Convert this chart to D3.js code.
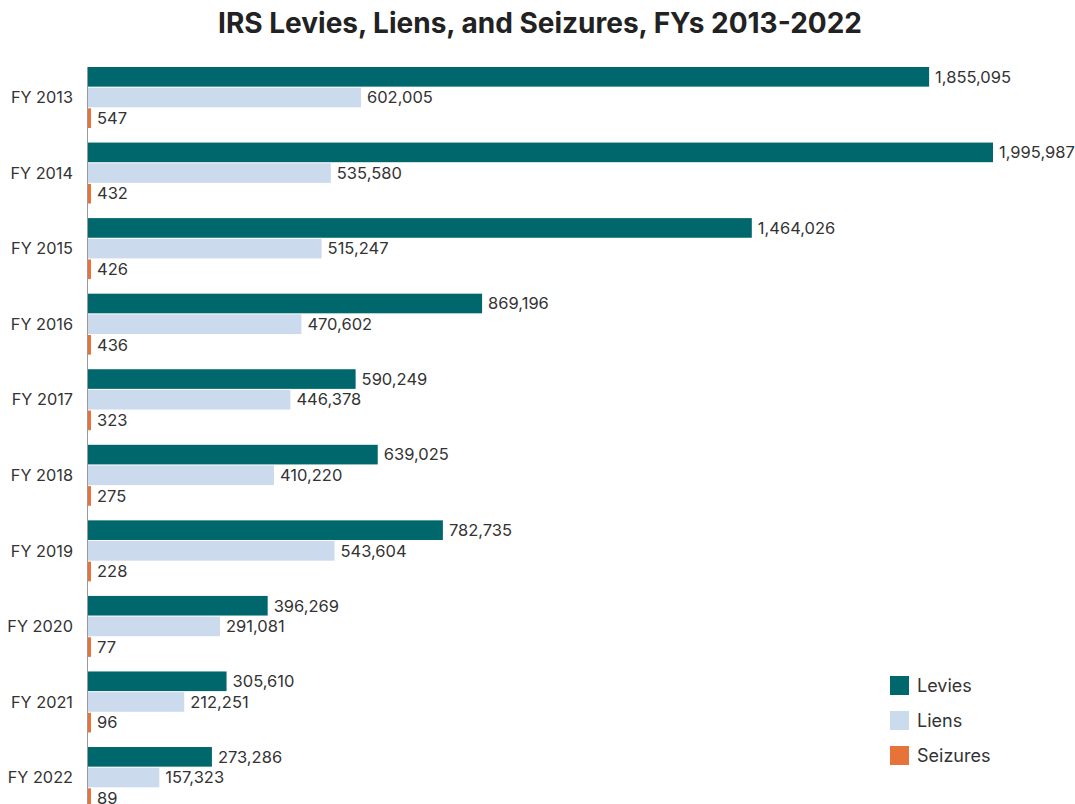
<!DOCTYPE html>
<html>
<head>
<meta charset="utf-8">
<script src="https://cdn.jsdelivr.net/npm/d3@7"></script>
<style>
  body { margin: 0; background: #fff; }
  svg { display: block; font-family: Inter, "Noto Sans", sans-serif; }
</style>
</head>
<body>
<div id="chart"></div>
<script>
const years = ["FY 2013", "FY 2014", "FY 2015", "FY 2016", "FY 2017", "FY 2018", "FY 2019", "FY 2020", "FY 2021", "FY 2022"];
const seriesNames = ["Levies", "Liens", "Seizures"];
const levies = [1855095, 1995987, 1464026, 869196, 590249, 639025, 782735, 396269, 305610, 273286];
const liens = [602005, 535580, 515247, 470602, 446378, 410220, 543604, 291081, 212251, 157323];
const seizures = [547, 432, 426, 436, 323, 275, 228, 77, 96, 89];
const colors = ["#00686d", "#cbdaec", "#e8733a"];

const width = 1075, height = 804;

const data = years.map((y, i) => ({
  year: y,
  vals: [levies[i], liens[i], seizures[i]]
}));

const svg = d3.select("#chart")
  .append("svg")
    .attr("width", width)
    .attr("height", height);

// title
svg.append("text")
  .attr("x", 540)
  .attr("y", 33)
  .attr("text-anchor", "middle")
  .attr("font-size", 28)
  .attr("font-weight", 700)
  .attr("fill", "#222")
  .text("IRS Levies, Liens, and Seizures, FYs 2013-2022");

const x = d3.scaleLinear()
  .domain([0, d3.max(levies)])
  .range([88, 993]);

const y = d3.scaleBand()
  .domain(years)
  .range([67, 808])
  .paddingInner(0.193)
  .paddingOuter(0);

const ySub = d3.scaleBand()
  .domain(seriesNames)
  .range([0, y.bandwidth()])
  .paddingInner(0.05);

const groups = svg.selectAll("g.grp")
  .data(data)
  .enter()
  .append("g")
    .attr("class", "grp")
    .attr("transform", d => "translate(0," + y(d.year) + ")");

groups.selectAll("rect")
  .data(d => d.vals.map((v, i) => ({ key: seriesNames[i], v: v, i: i })))
  .enter()
  .append("rect")
    .attr("x", x(0))
    .attr("y", d => ySub(d.key))
    .attr("width", d => Math.max(3, x(d.v) - x(0)))
    .attr("height", ySub.bandwidth())
    .attr("fill", d => colors[d.i]);

// value labels
groups.selectAll("text.val")
  .data(d => d.vals.map((v, i) => ({ key: seriesNames[i], v: v, i: i })))
  .enter()
  .append("text")
    .attr("class", "val")
    .attr("x", d => x(0) + Math.max(3, x(d.v) - x(0)) + 6)
    .attr("y", d => ySub(d.key) + ySub.bandwidth() / 2)
    .attr("dy", "0.35em")
    .attr("font-size", 16.5)
    .attr("fill", "#333")
    .text(d => d3.format(",")(d.v));

// y axis labels
groups.append("text")
  .attr("x", 73)
  .attr("y", y.bandwidth() / 2)
  .attr("dy", "0.35em")
  .attr("text-anchor", "end")
  .attr("font-size", 16.3)
  .attr("fill", "#333")
  .text(d => d.year);

// axis line
svg.append("line")
  .attr("x1", x(0) - 0.5)
  .attr("x2", x(0) - 0.5)
  .attr("y1", 67)
  .attr("y2", height)
  .attr("stroke", "#999")
  .attr("stroke-width", 1);

// legend
const legend = svg.selectAll("g.legend")
  .data(seriesNames)
  .enter()
  .append("g")
    .attr("class", "legend")
    .attr("transform", (d, i) => "translate(890," + (676 + i * 35) + ")");

legend.append("rect")
  .attr("width", 19)
  .attr("height", 19)
  .attr("fill", (d, i) => colors[i]);

legend.append("text")
  .attr("x", 27)
  .attr("y", 10)
  .attr("dy", "0.35em")
  .attr("font-size", 18)
  .attr("fill", "#333")
  .text(d => d);
</script>
</body>
</html>
